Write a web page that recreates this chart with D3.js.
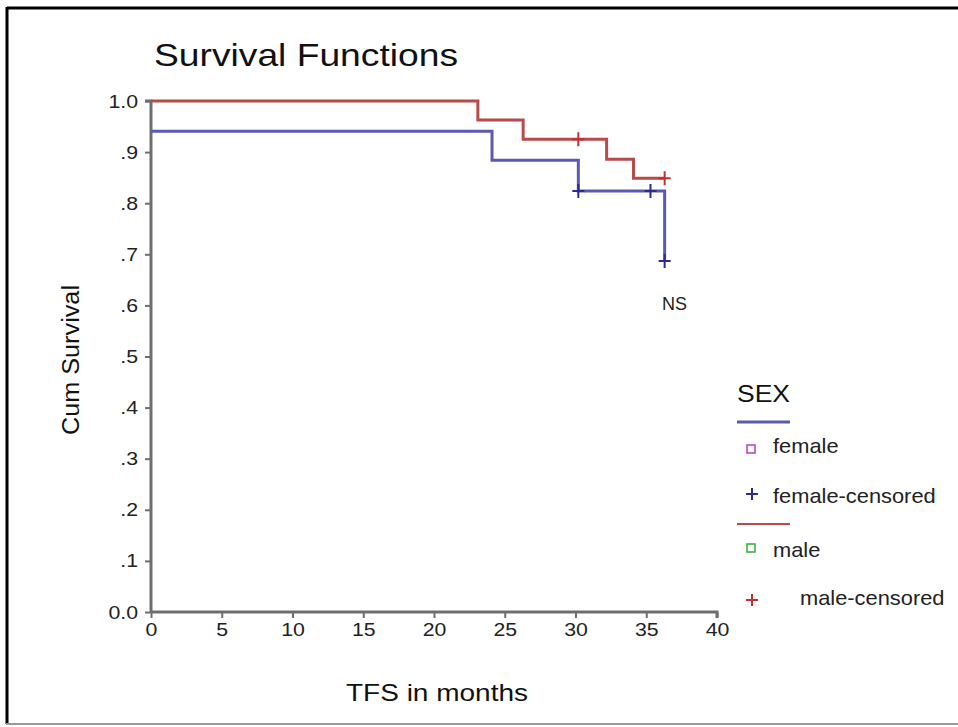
<!DOCTYPE html>
<html>
<head>
<meta charset="utf-8">
<script src="https://cdn.jsdelivr.net/npm/d3@7"></script>
<style>
  body { margin: 0; background: #fff; }
  svg { display: block; font-family: Arial, "Liberation Sans", sans-serif; }
</style>
</head>
<body>
<div id="chart"></div>
<script>
const dims = { width: 958, height: 727 };

// step curves: [time, cum survival]
const femaleSteps = [[0, 0.941], [24.1, 0.941], [24.1, 0.884], [30.2, 0.884], [30.2, 0.824], [36.3, 0.824], [36.3, 0.687]];
const maleSteps = [[0, 1.0], [23.1, 1.0], [23.1, 0.963], [26.3, 0.963], [26.3, 0.925], [32.2, 0.925], [32.2, 0.886], [34.1, 0.886], [34.1, 0.849], [36.3, 0.849]];

// censored marks
const femaleCensored = [[30.2, 0.824], [35.3, 0.824], [36.3, 0.687]];
const maleCensored = [[30.2, 0.925], [36.3, 0.849]];

const xTicks = [0, 5, 10, 15, 20, 25, 30, 35, 40];
const yTicks = [0, 0.1, 0.2, 0.3, 0.4, 0.5, 0.6, 0.7, 0.8, 0.9, 1.0];
const yTickLabels = ['0.0', '.1', '.2', '.3', '.4', '.5', '.6', '.7', '.8', '.9', '1.0'];

const legendLabels = ['female', 'female-censored', 'male', 'male-censored'];

const colors = { female: '#5a5ab4', male: '#b84a4a', axis: '#6e6e6e' };

const svg = d3.select('#chart')
    .append('svg')
    .attr('width', dims.width)
    .attr('height', dims.height);

// widen text a bit, the original font runs wider than Arial
const stretch = (sel, k) => sel.each(function () {
    const len = this.getComputedTextLength();
    d3.select(this).attr('textLength', len * k).attr('lengthAdjust', 'spacingAndGlyphs');
});

// frame
svg.append('line').attr('x1', 7).attr('x2', dims.width).attr('y1', 8).attr('y2', 8)
    .attr('stroke', '#000').attr('stroke-width', 3);
svg.append('line').attr('x1', 7).attr('x2', 7).attr('y1', 7).attr('y2', 724)
    .attr('stroke', '#000').attr('stroke-width', 3);
svg.append('line').attr('x1', 6).attr('x2', dims.width).attr('y1', 724).attr('y2', 724)
    .attr('stroke', '#999').attr('stroke-width', 2);

const x = d3.scaleLinear().domain([0, 40]).range([151, 717]);
const y = d3.scaleLinear().domain([0, 1]).range([612, 101]);

// axes
const xAxis = svg.append('g')
    .attr('transform', `translate(0,${y(0)})`)
    .call(d3.axisBottom(x).tickValues(xTicks).tickSize(6).tickPadding(5));

const yAxis = svg.append('g')
    .attr('transform', `translate(${x(0)},0)`)
    .call(d3.axisLeft(y).tickValues(yTicks).tickFormat((d, i) => yTickLabels[i]).tickSize(6).tickPadding(7));

[xAxis, yAxis].forEach(a => {
    a.select('.domain').attr('stroke', colors.axis).attr('stroke-width', 3);
    a.selectAll('.tick line').attr('stroke', colors.axis).attr('stroke-width', 2);
    a.selectAll('.tick text').attr('fill', '#222').style('font-size', '19px')
        .style('font-family', 'Arial, "Liberation Sans", sans-serif')
        .call(stretch, 1.12);
});
yAxis.select('.domain').attr('d', `M-6,${y(1)}H0V${y(0)}`);
xAxis.select('.domain').attr('d', `M${x(0)},0H${x(40)}V6`);

// curves
const line = d3.line().x(d => x(d[0])).y(d => y(d[1]));

svg.append('path').datum(femaleSteps).attr('d', line)
    .attr('fill', 'none').attr('stroke', colors.female).attr('stroke-width', 3);
svg.append('path').datum(maleSteps).attr('d', line)
    .attr('fill', 'none').attr('stroke', colors.male).attr('stroke-width', 3);

const plus = (g, data, color) => {
    g.selectAll(null).data(data).enter().append('path')
        .attr('d', d => `M${x(d[0])},${y(d[1]) - 7}V${y(d[1]) + 7}M${x(d[0]) - 6},${y(d[1])}H${x(d[0]) + 6}`)
        .attr('stroke', color).attr('stroke-width', 2).attr('fill', 'none');
};
plus(svg.append('g'), femaleCensored, '#2c2c90');
plus(svg.append('g'), maleCensored, '#c03030');

// texts
svg.append('text').attr('x', 154).attr('y', 66).text('Survival Functions')
    .style('font-size', '32px').attr('fill', '#111')
    .attr('textLength', 304).attr('lengthAdjust', 'spacingAndGlyphs');

svg.append('text').attr('x', 662).attr('y', 310).text('NS')
    .style('font-size', '18px').attr('fill', '#222');

svg.append('text').attr('transform', 'translate(79,360) rotate(-90)')
    .attr('text-anchor', 'middle').text('Cum Survival')
    .style('font-size', '23px').attr('fill', '#111')
    .attr('textLength', 150).attr('lengthAdjust', 'spacingAndGlyphs');

svg.append('text').attr('x', 437).attr('y', 701)
    .attr('text-anchor', 'middle').text('TFS in months')
    .style('font-size', '24px').attr('fill', '#111')
    .attr('textLength', 182).attr('lengthAdjust', 'spacingAndGlyphs');

// legend
const legend = svg.append('g');
legend.append('text').attr('x', 737).attr('y', 402).text('SEX')
    .style('font-size', '24px').attr('fill', '#111')
    .attr('textLength', 53).attr('lengthAdjust', 'spacingAndGlyphs');

legend.append('line').attr('x1', 737).attr('x2', 790).attr('y1', 422).attr('y2', 422)
    .attr('stroke', colors.female).attr('stroke-width', 3);
legend.append('line').attr('x1', 737).attr('x2', 790).attr('y1', 524).attr('y2', 524)
    .attr('stroke', colors.male).attr('stroke-width', 2);

const legendItems = [
    { label: legendLabels[0], y: 449, shape: 'square', color: '#b040b0', tx: 773, ty: 453 },
    { label: legendLabels[1], y: 494, shape: 'plus', color: '#2c2c90', tx: 773, ty: 503 },
    { label: legendLabels[2], y: 548, shape: 'square', color: '#30b030', tx: 773, ty: 557 },
    { label: legendLabels[3], y: 600, shape: 'plus', color: '#c03030', tx: 800, ty: 605 }
];

legendItems.forEach(item => {
    if (item.shape === 'square') {
        legend.append('rect').attr('x', 747).attr('y', item.y - 4).attr('width', 8).attr('height', 8)
            .attr('fill', 'none').attr('stroke', item.color).attr('stroke-width', 1.5);
    } else {
        legend.append('path').attr('d', `M752,${item.y - 6}V${item.y + 6}M746,${item.y}H758`)
            .attr('stroke', item.color).attr('stroke-width', 2);
    }
    legend.append('text').attr('x', item.tx).attr('y', item.ty).text(item.label)
        .style('font-size', '21px').attr('fill', '#222')
        .call(stretch, 1.04);
});
</script>
</body>
</html>
